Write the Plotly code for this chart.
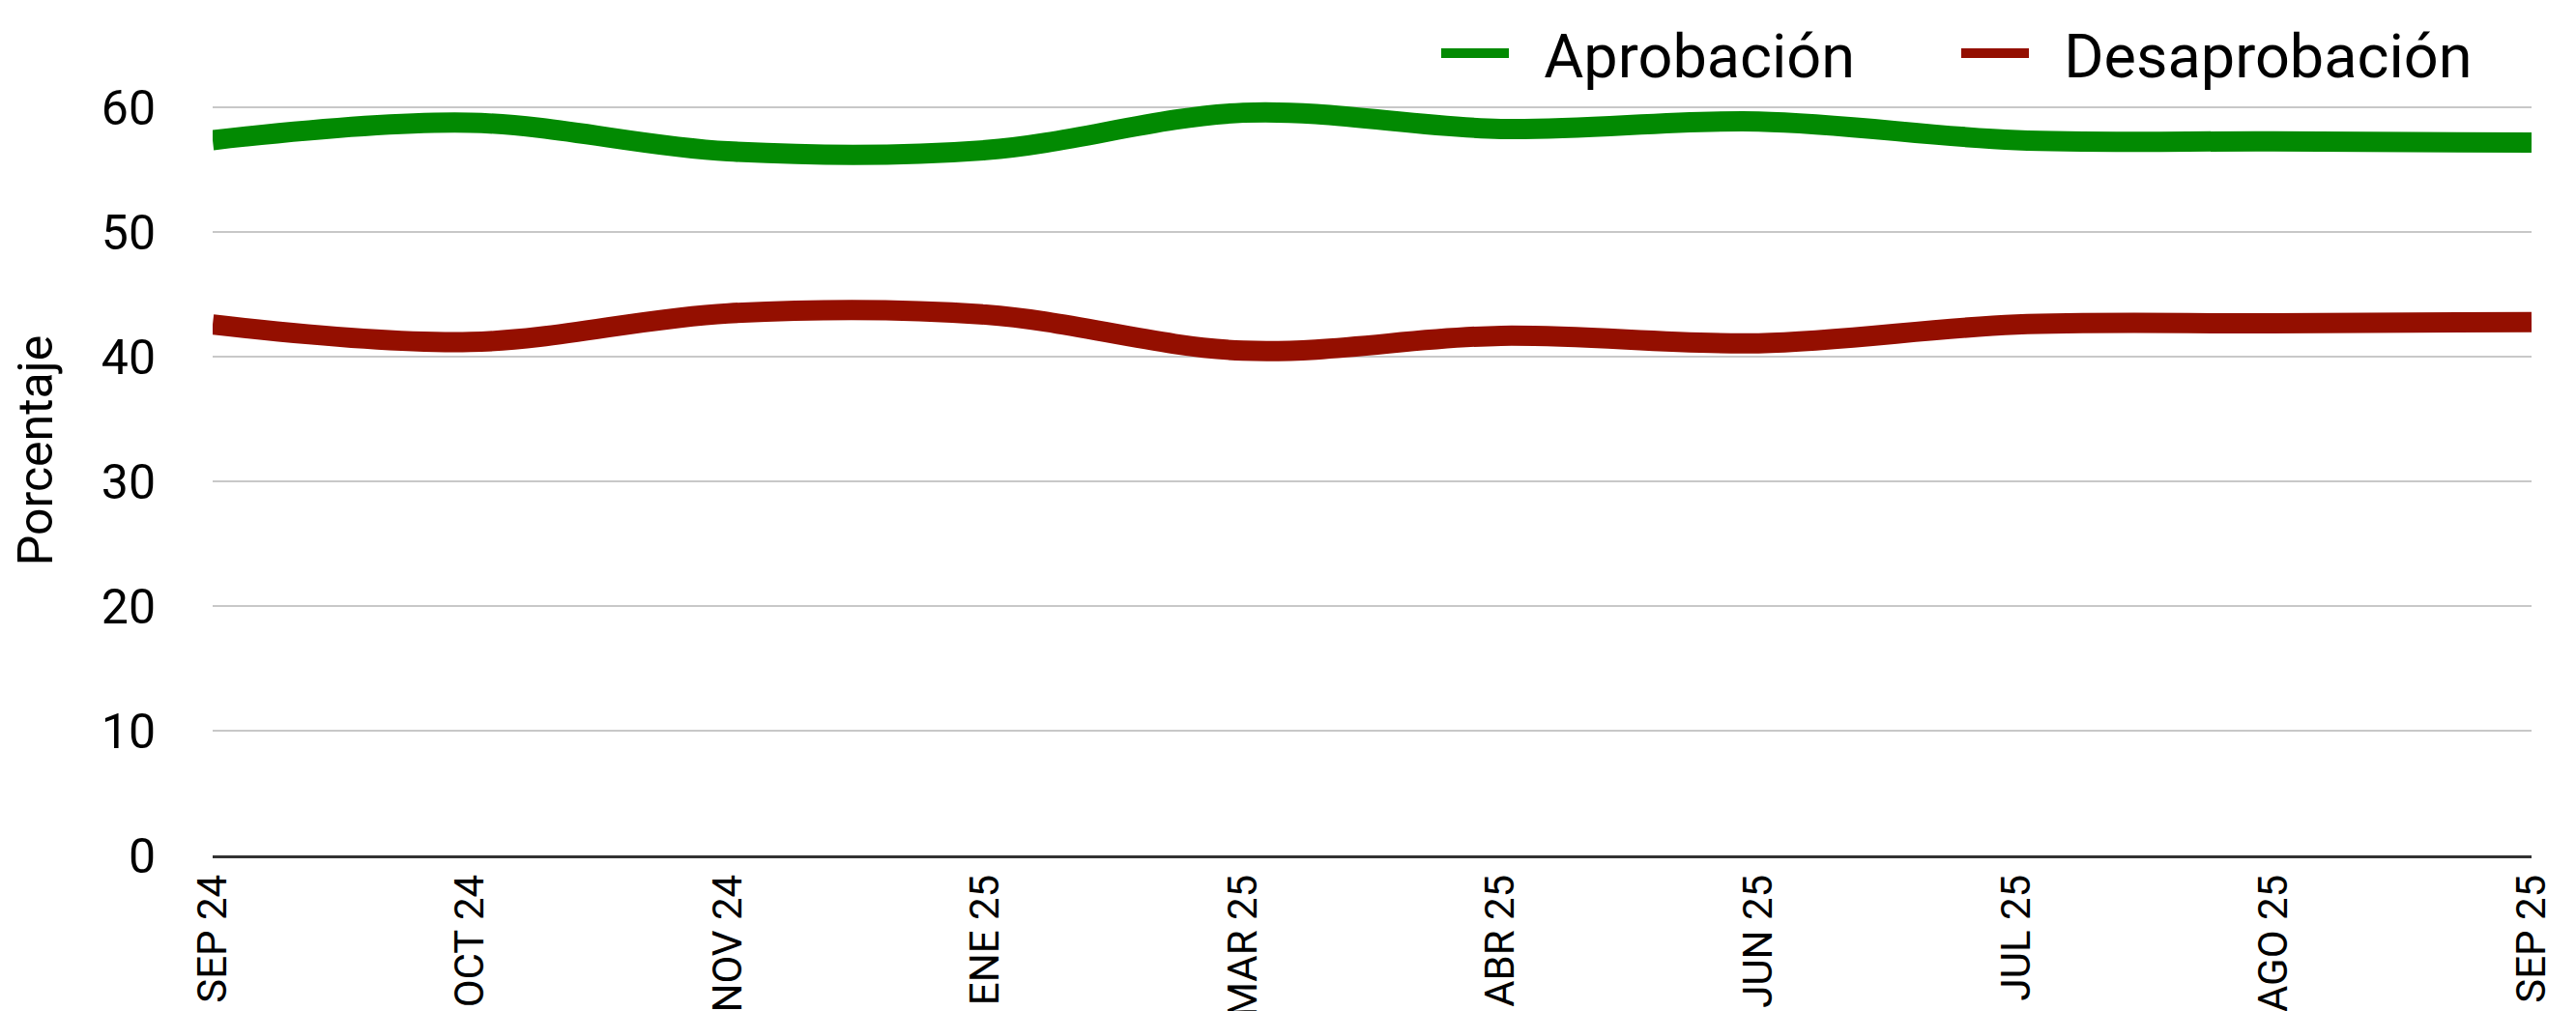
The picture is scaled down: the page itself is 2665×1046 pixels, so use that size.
import plotly.graph_objects as go

categories = ["SEP 24", "OCT 24", "NOV 24", "ENE 25", "MAR 25",
              "ABR 25", "JUN 25", "JUL 25", "AGO 25", "SEP 25"]
aprobacion = [57.4, 58.8, 56.5, 56.6, 59.6, 58.3, 58.9, 57.4, 57.3, 57.2]
desaprobacion = [42.6, 41.2, 43.5, 43.4, 40.5, 41.7, 41.1, 42.6, 42.7, 42.8]
y_ticks = [0, 10, 20, 30, 40, 50, 60]
series_names = ["Aprobación", "Desaprobación"]

GREEN = "#028a02"
RED = "#940f00"
PAD = "\u00a0\u00a0"

# page body has an 8px default margin; plot area placed so it lands at
# screen x 220..2619, y 47..885
L, R, T, B = 212, 54, 39, 169
PW = 2665 - L - R
PH = 1046 - T - B

fig = go.Figure()
fig.add_trace(go.Scatter(x=categories, y=aprobacion, name=PAD + series_names[0], mode="lines",
                         line=dict(color=GREEN, width=21, shape="spline", smoothing=1.0)))
fig.add_trace(go.Scatter(x=categories, y=desaprobacion, name=PAD + series_names[1], mode="lines",
                         line=dict(color=RED, width=21, shape="spline", smoothing=1.0)))

fig.update_layout(
    width=2665, height=1046,
    margin=dict(l=L, r=R, t=T, b=B, autoexpand=False),
    paper_bgcolor="white", plot_bgcolor="white",
    showlegend=True,
    legend=dict(orientation="h", x=(1478 - L) / PW, xanchor="left",
                y=(1046 - B - 47) / PH, yanchor="middle",
                font=dict(family="Roboto", size=63, color="black"),
                itemwidth=70, entrywidth=453, entrywidthmode="pixels",
                bgcolor="rgba(0,0,0,0)"),
    xaxis=dict(type="category", range=[0, 9], showgrid=False,
               showline=True, linecolor="#333333", linewidth=3,
               ticks="", tickangle=-90, ticklabelstandoff=0,
               tickfont=dict(family="Roboto", size=42, color="black")),
    yaxis=dict(range=[0, 65], tickvals=y_ticks, showgrid=True,
               gridcolor="#c8c8c8", gridwidth=2, zeroline=False,
               showline=False, ticks="", ticklabelstandoff=58,
               tickfont=dict(family="Roboto", size=50, color="black"),
               title=dict(text="Porcentaje", standoff=35,
                          font=dict(family="Roboto", size=50, color="black"))),
)

fig.write_html("out.html")
